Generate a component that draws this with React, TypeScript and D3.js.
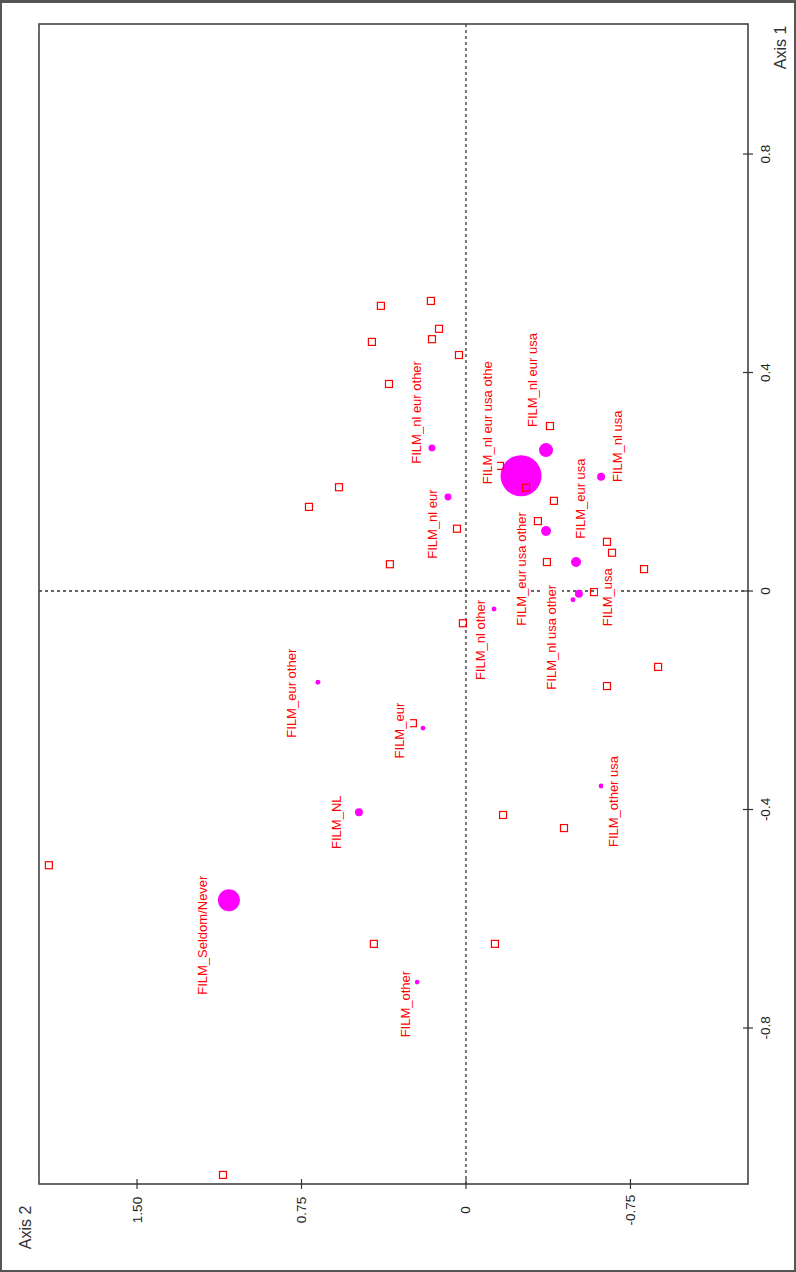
import React from 'react';
import * as d3 from 'd3';

// Correspondence analysis of film viewing habits: category points (FILM_*) and individual rows.
const categoryNames = [
  'FILM_Seldom/Never',
  'FILM_NL',
  'FILM_eur other',
  'FILM_eur',
  'FILM_other',
  'FILM_nl eur other',
  'FILM_nl eur',
  'FILM_nl other',
  'FILM_nl eur usa othe',
  'FILM_nl eur usa',
  'FILM_eur usa other',
  'FILM_nl usa',
  'FILM_eur usa',
  'FILM_nl usa other',
  'FILM_usa',
  'FILM_other usa',
];
const categoryAxis1 = [-0.566, -0.405, -0.167, -0.251, -0.716, 0.262, 0.172, -0.033, 0.211, 0.258, 0.11, 0.209, 0.053, -0.016, -0.005, -0.357];
const categoryAxis2 = [1.081, 0.488, 0.675, 0.196, 0.223, 0.155, 0.082, -0.128, -0.251, -0.365, -0.365, -0.616, -0.502, -0.488, -0.515, -0.616];
// relative mass (%) of each category, shown as marker area
const categoryMass = [16.1, 2.1, 0.8, 0.8, 0.8, 1.6, 1.6, 0.8, 56, 6.5, 3.3, 2.1, 3.3, 0.8, 2.1, 0.8];

const rowAxis1 = [
  0.522, 0.531, 0.48, 0.461, 0.456, 0.432, 0.379, 0.19, 0.154, 0.114, 0.049, 0.229, 0.302, 0.189, 0.165, 0.128,
  0.053, 0.09, 0.07, 0.04, -0.002, -0.059, -0.242, -0.139, -0.174, -0.41, -0.434, -0.646, -0.646, -0.502, -1.069,
];
const rowAxis2 = [
  0.388, 0.16, 0.123, 0.155, 0.429, 0.032, 0.351, 0.579, 0.716, 0.041, 0.347, -0.155, -0.383, -0.274, -0.401, -0.328,
  -0.369, -0.643, -0.666, -0.812, -0.584, 0.014, 0.242, -0.876, -0.643, -0.169, -0.447, 0.42, -0.132, 1.902, 1.108,
];

const axis1Ticks = [0.8, 0.4, 0, -0.4, -0.8];
const axis1TickLabels = ['0.8', '0.4', '0', '-0.4', '-0.8'];
const axis2Ticks = [1.5, 0.75, 0, -0.75];
const axis2TickLabels = ['1.50', '0.75', '0', '-0.75'];

// ---- layout ----
const W = 796;
const H = 1272;
const frame = { left: 39, right: 748, top: 24, bottom: 1184 };
const FONT = '"Liberation Sans", Arial, Helvetica, sans-serif';
const LABEL_SIZE = 13;
const RED = '#ff0000';
const MAGENTA = '#ff00ff';

// label placement: pixel shift of each label centre from its point
const labelShift: [number, number][] = [
  [-26, 35], [-22, 10], [-26, 11], [-23, 2.5], [-12, 22], [-15, -35.5], [-15, 27], [-14, 31],
  [-34, -53], [-14, -70], [-25, 38], [16, -30.5], [4, -63.5], [-21, 37.5], [29, 3.5], [12, 15.5],
];

let measureCtx: CanvasRenderingContext2D | null = null;
function textWidth(t: string, size: number): number {
  if (!measureCtx) measureCtx = document.createElement('canvas').getContext('2d');
  if (!measureCtx) return t.length * size * 0.55;
  measureCtx.font = `${size}px ${FONT}`;
  return measureCtx.measureText(t).width;
}

export default function App() {
  // Axis 2 runs right-to-left, Axis 1 runs bottom-to-top (plot shown rotated)
  const x = d3.scaleLinear().domain([1.947, -1.286]).range([frame.left, frame.right]);
  const y = d3.scaleLinear().domain([1.038, -1.0856]).range([frame.top, frame.bottom]);
  const r = d3.scaleSqrt().domain([0, 56]).range([0, 20.5]);

  const x0 = x(0);
  const y0 = y(0);
  const sq = 7;

  return (
    <svg
      width={W}
      height={H}
      style={{ position: 'absolute', left: 0, top: 0, background: '#fff' }}
      fontFamily={FONT}
    >
      <rect x={0} y={0} width={W} height={H} fill="#fff" />
      {/* outer border */}
      <rect x={1} y={1} width={W - 2} height={H - 2} fill="none" stroke="#555" strokeWidth={2} />
      <line x1={0} x2={W} y1={1.5} y2={1.5} stroke="#555" strokeWidth={3} />

      {/* reference lines through the origin */}
      <line x1={x0} x2={x0} y1={frame.top} y2={frame.bottom} stroke="#333" strokeWidth={1.3} strokeDasharray="3,3" />
      <line x1={frame.left} x2={frame.right} y1={y0} y2={y0} stroke="#333" strokeWidth={1.3} strokeDasharray="3,3" />

      {/* category points */}
      {categoryNames.map((n, i) => (
        <circle key={'c' + i} cx={x(categoryAxis2[i])} cy={y(categoryAxis1[i])} r={r(categoryMass[i])} fill={MAGENTA} />
      ))}

      {/* individual rows */}
      {rowAxis1.map((v, i) => (
        <rect
          key={'s' + i}
          x={x(rowAxis2[i]) - sq / 2}
          y={y(v) - sq / 2}
          width={sq}
          height={sq}
          fill="none"
          stroke={RED}
          strokeWidth={1.2}
        />
      ))}

      {/* category labels on white boxes */}
      {categoryNames.map((n, i) => {
        const cx = x(categoryAxis2[i]) + labelShift[i][0];
        const cy = y(categoryAxis1[i]) + labelShift[i][1];
        const w = textWidth(n, LABEL_SIZE);
        return (
          <g key={'l' + i} transform={`translate(${cx},${cy}) rotate(-90)`}>
            <rect x={-w / 2 - 2} y={-10} width={w + 4} height={20} fill="#fff" />
            <text textAnchor="middle" dominantBaseline="central" fontSize={LABEL_SIZE} fill={RED}>
              {n}
            </text>
          </g>
        );
      })}

      {/* plot frame */}
      <rect
        x={frame.left}
        y={frame.top}
        width={frame.right - frame.left}
        height={frame.bottom - frame.top}
        fill="none"
        stroke="#444"
        strokeWidth={1.6}
      />

      {/* Axis 1 (right side) */}
      {axis1Ticks.map((t, i) => (
        <g key={'a1' + i}>
          <line x1={frame.right - 5} x2={frame.right + 5} y1={y(t)} y2={y(t)} stroke="#333" strokeWidth={1.2} />
          <text
            transform={`translate(${frame.right + 17},${y(t)}) rotate(-90)`}
            textAnchor="middle"
            dominantBaseline="central"
            fontSize={13.5}
            fill="#222"
          >
            {axis1TickLabels[i]}
          </text>
        </g>
      ))}
      <text
        transform={`translate(780,47.5) rotate(-90)`}
        textAnchor="middle"
        dominantBaseline="central"
        fontSize={16}
        fill="#333"
      >
        Axis 1
      </text>

      {/* Axis 2 (bottom) */}
      {axis2Ticks.map((t, i) => (
        <g key={'a2' + i}>
          <line x1={x(t)} x2={x(t)} y1={frame.bottom - 5} y2={frame.bottom + 5} stroke="#333" strokeWidth={1.2} />
          <text
            transform={`translate(${x(t)},${frame.bottom + 26}) rotate(-90)`}
            textAnchor="middle"
            dominantBaseline="central"
            fontSize={13.5}
            fill="#222"
          >
            {axis2TickLabels[i]}
          </text>
        </g>
      ))}
      <text
        transform={`translate(25,1227.5) rotate(-90)`}
        textAnchor="middle"
        dominantBaseline="central"
        fontSize={16}
        fill="#333"
      >
        Axis 2
      </text>
    </svg>
  );
}
